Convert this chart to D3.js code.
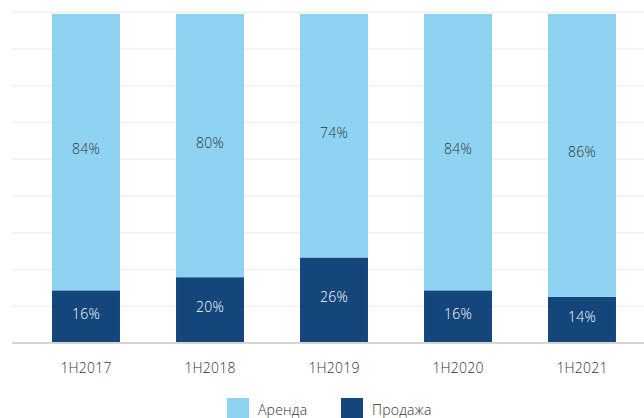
<!DOCTYPE html>
<meta charset='utf-8'>
<style>
body { margin: 0; background: #fff; }
svg text { font: 300 14px 'Open Sans', 'Noto Sans', sans-serif; fill: #333; letter-spacing: 0.2px; }
.grid line { stroke: #f0f0f0; stroke-width: 1.5px; }
.base { stroke: #d4d4d4; stroke-width: 2px; }
</style>
<body>
<script src='https://d3js.org/d3.v7.min.js'></script>
<script>
'use strict'

// Data
let periods = ['1H2017', '1H2018', '1H2019', '1H2020', '1H2021'],
	rent = [84, 80, 74, 84, 86],
	sale = [16, 20, 26, 16, 14],
	seriesNames = ['Аренда', 'Продажа'],
	colors = ['#8ed3f2', '#14457b']

let width = 644, height = 418,
	x = d3.scaleBand().domain(periods).range([24, 644]).paddingInner(0.452).paddingOuter(0.226),
	y = d3.scaleLinear().domain([0, 100]).range([343, 14])

let svg = d3.select('body').append('svg').attr('width', width).attr('height', height)

// gridlines, 9 intervals up to just above 100%
let gridTop = 100.5, gridVals = d3.range(0, 10).map(i => i * gridTop / 9)
svg.append('g').attr('class', 'grid')
	.selectAll('line').data(gridVals.slice(1)).join('line')
		.attr('x1', 12).attr('x2', 644)
		.attr('y1', d => y(d)).attr('y2', d => y(d))

let rows = periods.map((p, i) => ({p, rent: rent[i], sale: sale[i]}))
let stack = d3.stack().keys(['sale', 'rent'])(rows)

svg.append('g').selectAll('g').data(stack).join('g')
	.attr('fill', (d, i) => colors[1 - i])
	.selectAll('rect').data(d => d).join('rect')
		.attr('x', d => x(d.data.p)).attr('width', x.bandwidth())
		.attr('y', d => y(d[1])).attr('height', d => y(d[0]) - y(d[1]))

svg.append('line').attr('class', 'base')
	.attr('x1', 12).attr('x2', 644).attr('y1', y(0)).attr('y2', y(0))

// value labels
svg.append('g').selectAll('g').data(stack).join('g')
	.style('fill', (d, i) => i == 0 ? '#fff' : '#333')
	.selectAll('text').data(d => d).join('text')
		.attr('x', d => x(d.data.p) + x.bandwidth() / 2)
		.attr('y', d => (y(d[0]) + y(d[1])) / 2 - 3)
		.attr('dy', '0.35em').attr('text-anchor', 'middle')
		.style('fill', 'inherit')
		.text(d => `${d[1] - d[0]}%`)

// x axis labels
svg.append('g').selectAll('text').data(periods).join('text')
	.attr('x', d => x(d) + x.bandwidth() / 2).attr('y', 368)
	.attr('dy', '0.35em').attr('text-anchor', 'middle').text(d => d)

// legend
let legend = svg.append('g').selectAll('g').data(seriesNames).join('g')
	.attr('transform', (d, i) => `translate(${[227, 341][i]},398)`)
legend.append('rect').attr('width', 22).attr('height', 20).attr('fill', (d, i) => colors[i])
legend.append('text').attr('x', 31).attr('y', 12).attr('dy', '0.35em').text(d => d)
</script>
</body>
